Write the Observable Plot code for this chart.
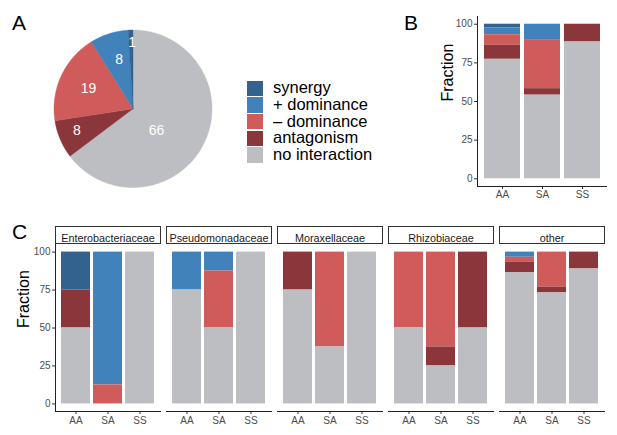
<!DOCTYPE html>
<html><head><meta charset="utf-8">
<script src="https://cdn.jsdelivr.net/npm/d3@7"></script>
<script src="https://cdn.jsdelivr.net/npm/@observablehq/plot@0.6"></script>
<style>
body{margin:0;background:#fff;font-family:"Liberation Sans",Arial,Helvetica,sans-serif;}
#root{position:relative;width:617px;height:435px;overflow:hidden;background:#fff;}
.panel{position:absolute;}
.tag{position:absolute;font-size:21px;line-height:21px;color:#000;}
.legend{position:absolute;left:247px;top:80px;}
.legend .row{display:flex;align-items:center;height:16.7px;}
.legend .sw{width:16px;height:15.5px;margin-right:10px;}
.legend .lab{font-size:16.5px;line-height:16px;color:#000;position:relative;top:-1px;}
</style></head><body><div id="root"></div>
<script>
// ---------- data ----------
const categories = ["synergy", "+ dominance", "\u2013 dominance", "antagonism", "no interaction"];
const colors = ["#33628e", "#4182bb", "#d05b5b", "#8b363b", "#bdbec2"];
const pieCounts = [1, 8, 19, 8, 66];               // per category
const pairTypes = ["AA", "SA", "SS"];
// panel B: percent per category (category order above)
const overallAA = [2.3, 4.5, 6.8, 9.1, 77.3];
const overallSA = [0, 10.4, 31.3, 4.2, 54.1];
const overallSS = [0, 0, 0, 11.5, 88.5];
// panel C: families
const families = ["Enterobacteriaceae", "Pseudomonadaceae", "Moraxellaceae", "Rhizobiaceae", "other"];
const enteroAA = [25, 0, 0, 25, 50],   enteroSA = [0, 87.5, 12.5, 0, 0],  enteroSS = [0, 0, 0, 0, 100];
const pseudoAA = [0, 25, 0, 0, 75],    pseudoSA = [0, 12.5, 37.5, 0, 50], pseudoSS = [0, 0, 0, 0, 100];
const moraxAA  = [0, 0, 0, 25, 75],    moraxSA  = [0, 0, 62.5, 0, 37.5],  moraxSS  = [0, 0, 0, 0, 100];
const rhizoAA  = [0, 0, 50, 0, 50],    rhizoSA  = [0, 0, 62.5, 12.5, 25], rhizoSS  = [0, 0, 0, 50, 50];
const otherAA  = [0, 3.4, 3.4, 6.9, 86.3], otherSA = [0, 0, 23.1, 3.8, 73.1], otherSS = [0, 0, 0, 11.1, 88.9];

// ---------- layout config ----------
const stackOrder = categories.slice().reverse();
const pieOrder = [4, 3, 2, 1, 0];                  // clockwise from 12 o'clock
const pieLabelR = [0.41, 0.76, 0.62, 0.65, 0.84];  // radial label position (fraction of radius), pieOrder
const pieLabelDa = [17, 2, 0, 2, 1];               // angle nudge in degrees, pieOrder
const font = '"Liberation Sans", Arial, Helvetica, sans-serif';
const root = document.getElementById("root");
function place(el, left, top) { el.classList.add("panel"); el.style.left = left + "px"; el.style.top = top + "px"; root.appendChild(el); }
function tag(t, left, top) { const d = document.createElement("div"); d.className = "tag"; d.textContent = t; d.style.left = left + "px"; d.style.top = top + "px"; root.appendChild(d); }

// ---------- panel A: pie ----------
const arcs = d3.pie().sort(null).value(i => pieCounts[i])(pieOrder);
const slicePts = [];
const pieLabels = [];
arcs.forEach((a, k) => {
  const cat = categories[a.data];
  slicePts.push({cat, x: 0, y: 0});
  const n = Math.max(2, Math.ceil((a.endAngle - a.startAngle) / 0.01));
  for (let j = 0; j <= n; j++) {
    const t = a.startAngle + (a.endAngle - a.startAngle) * j / n;
    slicePts.push({cat, x: Math.sin(t), y: Math.cos(t)});
  }
  slicePts.push({cat, x: 0, y: 0});
  const m = (a.startAngle + a.endAngle) / 2 + pieLabelDa[k] * Math.PI / 180;
  pieLabels.push({x: pieLabelR[k] * Math.sin(m), y: pieLabelR[k] * Math.cos(m), text: String(pieCounts[a.data])});
});
const pie = Plot.plot({
  width: 240, height: 200, margin: 0,
  style: {fontFamily: font, background: "transparent"},
  x: {domain: [-1, 1], range: [53.5, 211.5], axis: null},
  y: {domain: [-1, 1], range: [187, 29.5], axis: null},
  color: {domain: categories, range: colors},
  marks: [
    Plot.line(slicePts, {x: "x", y: "y", z: "cat", fill: "cat", stroke: "cat", strokeWidth: 0.4}),
    Plot.text(pieLabels, {x: "x", y: "y", text: "text", fill: "white", fontSize: 14})
  ]
});
place(pie, 0, 0);
tag("A", 12, 12);

// legend
const leg = document.createElement("div");
leg.className = "legend";
categories.forEach((c, i) => {
  const r = document.createElement("div"); r.className = "row";
  const s = document.createElement("div"); s.className = "sw"; s.style.background = colors[i];
  const l = document.createElement("div"); l.className = "lab"; l.textContent = c;
  r.appendChild(s); r.appendChild(l); leg.appendChild(r);
});
root.appendChild(leg);

// ---------- panel B ----------
const rowsB = [];
[overallAA, overallSA, overallSS].forEach((v, i) => categories.forEach((c, j) => rowsB.push({pair: pairTypes[i], cat: c, value: v[j]})));
const axisStyle = {fontFamily: font, fontSize: "10px", background: "transparent", color: "#4d4d4d"};
const plotB = Plot.plot({
  width: 197, height: 205, marginLeft: 57, marginRight: 11, marginTop: 16, marginBottom: 19,
  style: axisStyle,
  x: {domain: pairTypes, paddingInner: 0.1, paddingOuter: 0.15, label: null},
  y: {domain: [-5, 105], label: null},
  color: {domain: categories, range: colors},
  marks: [
    Plot.barY(rowsB, Plot.stackY({order: stackOrder}, {x: "pair", y: "value", fill: "cat"})),
    Plot.axisY({ticks: [0, 25, 50, 75, 100], tickSize: 3, tickPadding: 2, label: null, stroke: "#333", fill: "#4d4d4d"}),
    Plot.axisX({tickSize: 3, tickPadding: 1.5, label: null, stroke: "#333", fill: "#4d4d4d"}),
    Plot.frame({anchor: "left", stroke: "#222"}),
    Plot.frame({anchor: "bottom", stroke: "#222"}),
    Plot.text(["Fraction"], {frameAnchor: "left", dx: -30, rotate: -90, fontSize: 16, fill: "#000"})
  ]
});
place(plotB, 420, 0);
tag("B", 404, 12);

// ---------- panel C ----------
const famData = [[enteroAA, enteroSA, enteroSS], [pseudoAA, pseudoSA, pseudoSS], [moraxAA, moraxSA, moraxSS], [rhizoAA, rhizoSA, rhizoSS], [otherAA, otherSA, otherSS]];
const rowsC = [];
families.forEach((f, k) => pairTypes.forEach((p, i) => categories.forEach((c, j) => rowsC.push({family: f, pair: p, cat: c, value: famData[k][i][j]}))));
const plotC = Plot.plot({
  width: 617, height: 220, marginLeft: 53, marginRight: 11, marginTop: 29, marginBottom: 24,
  style: axisStyle,
  fx: {domain: families, paddingInner: 0.052, paddingOuter: 0, label: null, axis: null},
  x: {domain: pairTypes, paddingInner: 0.1, paddingOuter: 0.15, label: null},
  y: {domain: [-5, 105], label: null},
  color: {domain: categories, range: colors},
  marks: [
    Plot.barY(rowsC, Plot.stackY({order: stackOrder}, {fx: "family", x: "pair", y: "value", fill: "cat"})),
    Plot.axisY({ticks: [0, 25, 50, 75, 100], tickSize: 3, tickPadding: 2, label: null, stroke: "#333", fill: "#4d4d4d"}),
    Plot.axisX({tickSize: 3, tickPadding: 2, label: null, stroke: "#333", fill: "#4d4d4d"}),
    Plot.frame({anchor: "bottom", stroke: "#222"}),
    Plot.frame({anchor: "left", stroke: "#222", fx: [families[0]]}),
    Plot.frame({insetTop: -18, insetBottom: 168, stroke: "#333", fill: "white"}),
    Plot.text(families, {fx: d => d, text: d => d, frameAnchor: "top", dy: -10.5, fontSize: 10.8, fill: "#1a1a1a"}),
    Plot.text(["Fraction"], {fx: () => families[0], frameAnchor: "left", dx: -32, rotate: -90, fontSize: 16, fill: "#000"})
  ]
});
place(plotC, 0, 215);
tag("C", 12, 221);
</script></body></html>
